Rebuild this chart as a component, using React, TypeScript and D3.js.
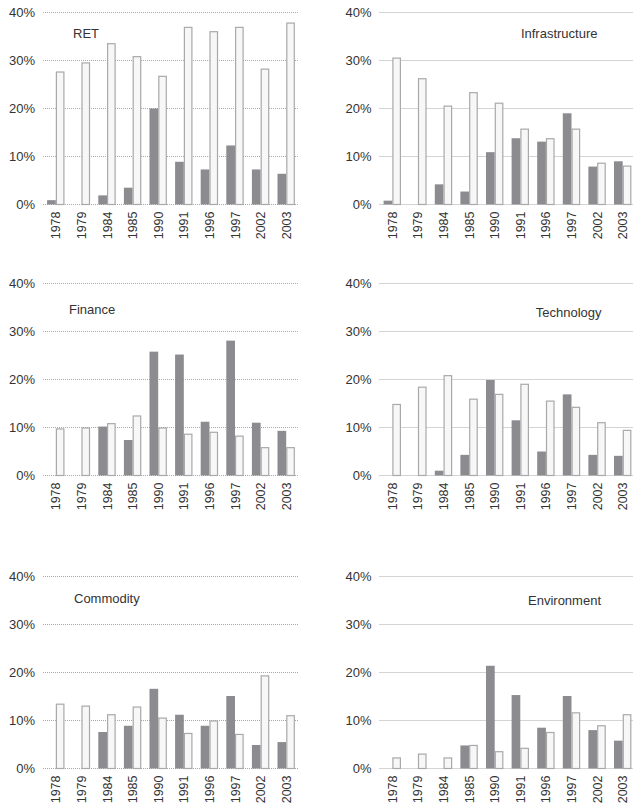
import React from "react";
import * as d3 from "d3";

const YEARS = ["1978", "1979", "1984", "1985", "1990", "1991", "1996", "1997", "2002", "2003"];
const TITLES = ["RET", "Infrastructure", "Finance", "Technology", "Commodity", "Environment"];
const Y_TICKS = [0, 10, 20, 30, 40];

// dark series (first bar in each pair), light series (second bar)
const RET_DARK = [0.9, 0, 1.9, 3.5, 20.0, 8.9, 7.3, 12.3, 7.3, 6.4];
const RET_LIGHT = [27.6, 29.5, 33.5, 30.8, 26.7, 36.9, 36.0, 36.9, 28.2, 37.8];
const INFRA_DARK = [0.8, 0, 4.2, 2.7, 10.9, 13.8, 13.1, 19.0, 7.9, 9.0];
const INFRA_LIGHT = [30.5, 26.2, 20.5, 23.3, 21.1, 15.7, 13.7, 15.7, 8.6, 8.0];
const FIN_DARK = [0, 0, 10.2, 7.4, 25.8, 25.2, 11.2, 28.1, 11.0, 9.3];
const FIN_LIGHT = [9.7, 9.9, 10.8, 12.4, 9.9, 8.6, 9.0, 8.2, 5.8, 5.8];
const TECH_DARK = [0, 0, 1.0, 4.3, 19.9, 11.5, 5.0, 16.9, 4.3, 4.1];
const TECH_LIGHT = [14.8, 18.4, 20.8, 15.9, 16.9, 19.0, 15.5, 14.2, 11.0, 9.4];
const COMM_DARK = [0, 0, 7.6, 8.9, 16.6, 11.2, 8.9, 15.1, 4.9, 5.5];
const COMM_LIGHT = [13.4, 13.0, 11.2, 12.8, 10.5, 7.3, 9.9, 7.1, 19.3, 11.0];
const ENV_DARK = [0, 0, 0, 4.8, 21.4, 15.3, 8.5, 15.1, 8.0, 5.8];
const ENV_LIGHT = [2.2, 3.0, 2.2, 4.8, 3.5, 4.2, 7.5, 11.6, 8.9, 11.2];

const DARK = [RET_DARK, INFRA_DARK, FIN_DARK, TECH_DARK, COMM_DARK, ENV_DARK];
const LIGHT = [RET_LIGHT, INFRA_LIGHT, FIN_LIGHT, TECH_LIGHT, COMM_LIGHT, ENV_LIGHT];

// layout
const W = 633;
const H = 806;
const COL_X = [43, 379.5];
const ROW_BASE = [204.5, 475.5, 768.5];
const PLOT_W = 256;
const PLOT_H = 192;
const TITLE_POS = [
  { dx: 30, dy: -166.5, anchor: "start" },
  { dx: 218, dy: -166.5, anchor: "end" },
  { dx: 26, dy: -161.5, anchor: "start" },
  { dx: 222, dy: -159, anchor: "end" },
  { dx: 31, dy: -165.5, anchor: "start" },
  { dx: 221.5, dy: -163.5, anchor: "end" },
];

const FONT = "'Liberation Sans', Arial, Helvetica, sans-serif";
const TEXT = "#333";

function Panel({ idx }: { idx: number }) {
  const x0 = COL_X[idx % 2];
  const base = ROW_BASE[Math.floor(idx / 2)];
  const x = d3
    .scaleBand<string>()
    .domain(YEARS)
    .range([x0, x0 + PLOT_W])
    .paddingInner(0.32)
    .paddingOuter(0.16);
  const inner = d3.scaleBand<string>().domain(["d", "l"]).range([0, x.bandwidth()]);
  const y = d3.scaleLinear().domain([0, 40]).range([base, base - PLOT_H]);
  const t = TITLE_POS[idx];
  return (
    <g>
      {Y_TICKS.map((v) => (
        <g key={v}>
          <line
            x1={x0}
            x2={x0 + PLOT_W}
            y1={y(v)}
            y2={y(v)}
            stroke="#a8a8a8"
            strokeWidth={1}
            strokeDasharray="1,1"
          />
          <text
            x={x0 - 8}
            y={y(v)}
            dy="0.36em"
            textAnchor="end"
            fontSize={13}
            fontFamily={FONT}
            fill={TEXT}
          >
            {d3.format("d")(v) + "%"}
          </text>
        </g>
      ))}
      {YEARS.map((yr, i) => {
        const bx = x(yr)!;
        const dv = DARK[idx][i];
        const lv = LIGHT[idx][i];
        return (
          <g key={yr}>
            {dv > 0 && (
              <rect
                x={bx + inner("d")!}
                y={y(dv)}
                width={inner.bandwidth()}
                height={y(0) - y(dv)}
                fill="#8b8b90"
              />
            )}
            {lv > 0 && (
              <rect
                x={bx + inner("l")! + 0.6}
                y={y(lv)}
                width={inner.bandwidth() - 1.2}
                height={y(0) - y(lv)}
                fill="#f7f7f7"
                stroke="#a9a9a9"
                strokeWidth={1.2}
              />
            )}
            <text
              transform={`translate(${bx + x.bandwidth() / 2},${base + 7}) rotate(-90)`}
              textAnchor="end"
              dy="0.36em"
              fontSize={12.5}
              fontFamily={FONT}
              fill={TEXT}
            >
              {yr}
            </text>
          </g>
        );
      })}
      <text
        x={x0 + t.dx}
        y={base + t.dy}
        textAnchor={t.anchor}
        fontSize={13}
        fontFamily={FONT}
        fill={TEXT}
      >
        {TITLES[idx]}
      </text>
    </g>
  );
}

export default function App() {
  return (
    <svg
      width={W}
      height={H}
      style={{ position: "absolute", left: 0, top: 0, background: "#fff" }}
    >
      {TITLES.map((_, i) => (
        <Panel key={i} idx={i} />
      ))}
    </svg>
  );
}
